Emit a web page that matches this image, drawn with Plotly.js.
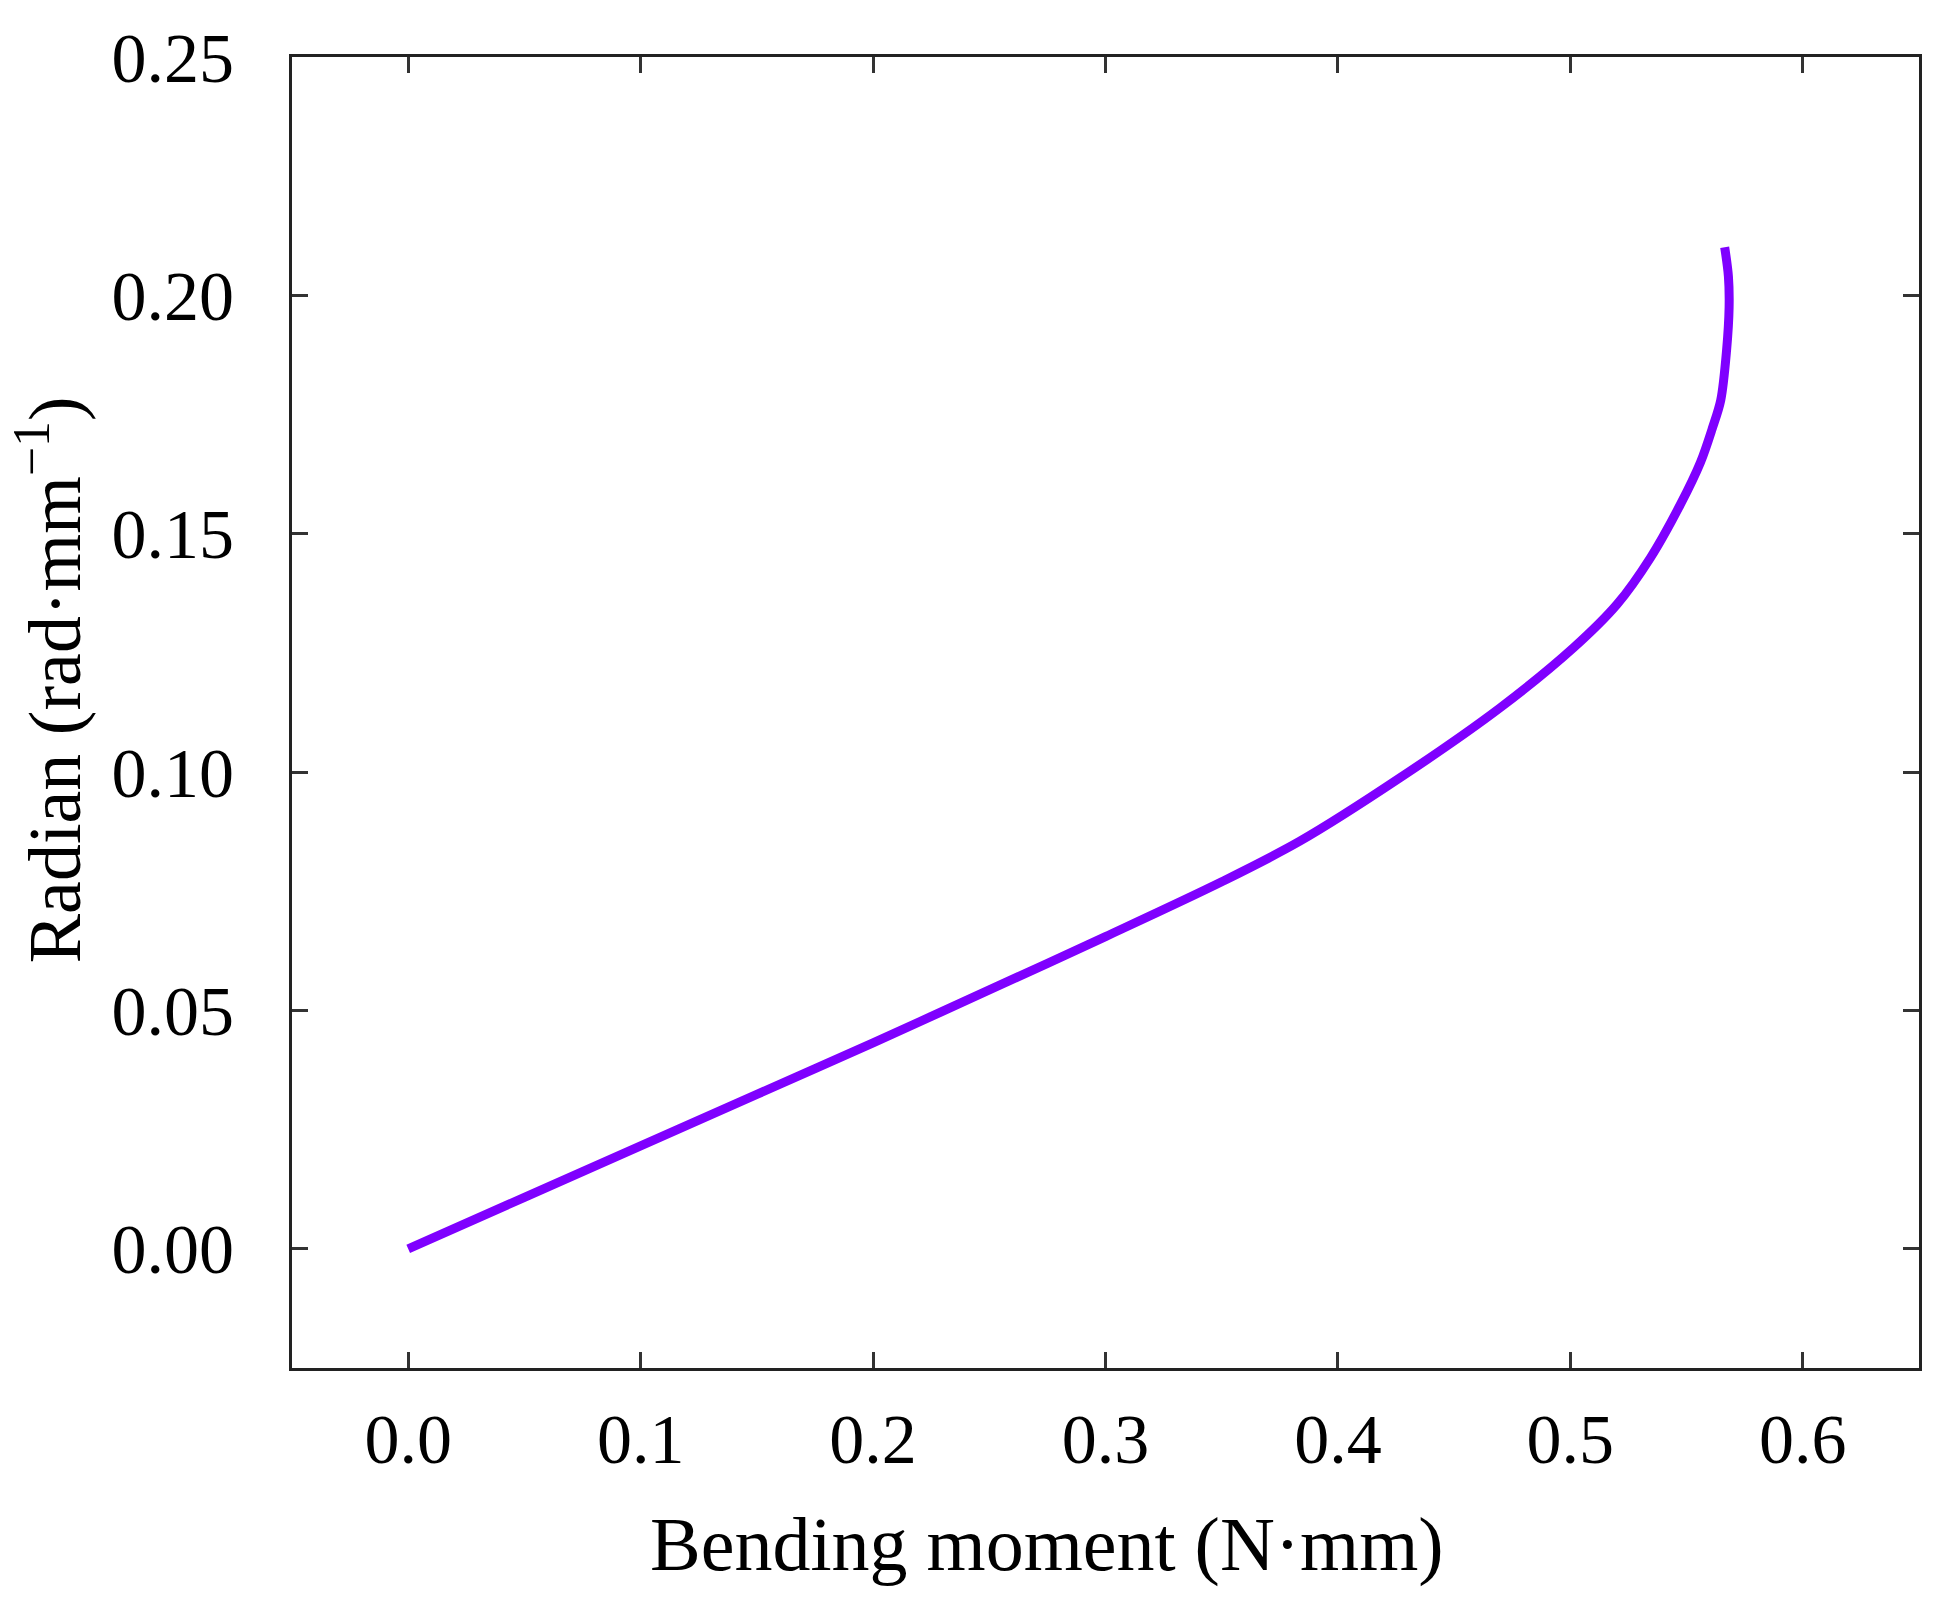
<!DOCTYPE html>
<html>
<head>
<meta charset="utf-8">
<script src="https://cdn.plot.ly/plotly-3.0.1.min.js"></script>
<style>
  html, body { margin: 0; padding: 0; background: #fff; }
  #graph { width: 1939px; height: 1597px; }
</style>
</head>
<body>
<div id="graph"></div>
<script>
// bending moment (N·mm)
var moment = [0, 0.05, 0.10, 0.15, 0.20, 0.25, 0.30, 0.35, 0.3836, 0.4267, 0.4698,
  0.5014, 0.5201, 0.5345, 0.5474, 0.5560, 0.5610, 0.5647, 0.5672, 0.5683, 0.5680, 0.5664];
// radian (rad·mm^-1)
var radian = [0, 0.0108, 0.0216, 0.0324, 0.0432, 0.0543, 0.0655, 0.0770, 0.0855, 0.0988, 0.1135,
  0.1261, 0.1352, 0.1450, 0.1562, 0.1650, 0.1720, 0.1780, 0.1884, 0.1975, 0.2040, 0.2101];

var xTitle = 'Bending moment (N·mm)';
var yTitle = 'Radian (rad·mm<sup>−1</sup>)';

var font = 'Liberation Serif, Times New Roman, serif';

var trace1 = {
  x: moment,
  y: radian,
  type: 'scatter',
  mode: 'lines',
  line: { color: '#7f00ff', width: 9, shape: 'spline', smoothing: 0.9 },
  showlegend: false
};

var axisStyle = {
  showline: true,
  linecolor: '#222',
  linewidth: 3,
  mirror: 'ticks',
  ticks: 'inside',
  ticklen: 16,
  tickwidth: 3,
  tickcolor: '#333',
  showgrid: false,
  zeroline: false,
  tickfont: { family: font, size: 70, color: '#000' }
};

var layout = {
  width: 1939,
  height: 1597,
  margin: { l: 292, r: 20, t: 57, b: 229 },
  paper_bgcolor: '#fff',
  plot_bgcolor: '#fff',
  xaxis: Object.assign({}, axisStyle, {
    range: [-0.05, 0.65],
    tick0: 0,
    dtick: 0.1,
    tickformat: '.1f',
    ticklabelstandoff: 8
  }),
  yaxis: Object.assign({}, axisStyle, {
    range: [-0.025, 0.25],
    tick0: 0,
    dtick: 0.05,
    tickformat: '.2f',
    ticklabelstandoff: 41
  }),
  // axis titles sit a little off-centre in the original, so place them by hand
  annotations: [
    {
      text: xTitle, xref: 'paper', yref: 'paper',
      x: 0.464, y: -0.135, xanchor: 'center', yanchor: 'middle',
      showarrow: false,
      font: { family: font, size: 76, color: '#000' }
    },
    {
      text: yTitle, xref: 'paper', yref: 'paper', textangle: -90,
      x: -0.149, y: 0.525, xanchor: 'center', yanchor: 'middle',
      showarrow: false,
      font: { family: font, size: 74, color: '#000' }
    }
  ]
};

Plotly.newPlot('graph', [trace1], layout, { displayModeBar: false });
</script>
</body>
</html>
